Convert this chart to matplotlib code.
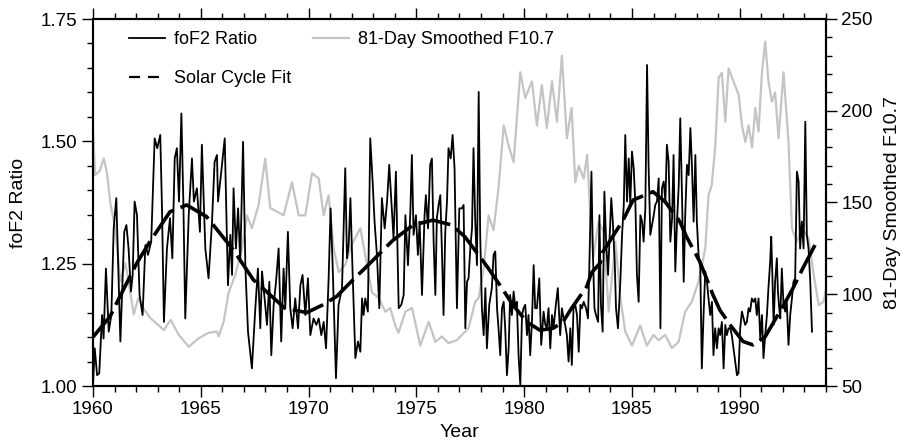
import numpy as np
import matplotlib
matplotlib.use("Agg")
import matplotlib.pyplot as plt
from matplotlib.lines import Line2D
from matplotlib.ticker import MultipleLocator, FormatStrFormatter

plt.rcParams["font.family"] = ["Liberation Sans", "DejaVu Sans"]
plt.rcParams["font.size"] = 13

# monthly-ish foF2 ratio, years counted from 1960
ratio_years = [
    0.0, 0.08, 0.19, 0.29, 0.42, 0.49, 0.60, 0.73, 0.85, 0.96, 1.08, 1.27, 1.45, 1.55, 1.65, 1.76, 1.84, 1.93,
    2.04, 2.16, 2.30, 2.43, 2.55, 2.70, 2.86, 2.98, 3.12, 3.20, 3.29, 3.43, 3.57, 3.68, 3.79, 3.89, 3.99,
    4.10, 4.19, 4.28, 4.44, 4.59, 4.68, 4.82, 4.96, 5.05, 5.21, 5.36, 5.52, 5.64, 5.75,
    5.80, 5.95, 6.11, 6.26, 6.37, 6.45, 6.52, 6.63, 6.73, 6.83, 6.96, 7.07, 7.19, 7.37, 7.53, 7.65, 7.76,
    7.84, 7.96, 8.07, 8.18, 8.27, 8.38, 8.49, 8.61, 8.73, 8.84, 8.92, 9.04, 9.15, 9.26, 9.38, 9.51, 9.62,
    9.72, 9.85, 9.97, 10.08, 10.23, 10.36, 10.47, 10.59, 10.70, 10.81, 10.93, 11.02, 11.11, 11.21, 11.27,
    11.39, 11.55, 11.70, 11.78, 11.86, 11.94, 12.04, 12.17, 12.29, 12.40, 12.48, 12.55, 12.63, 12.75, 12.86,
    12.97, 13.06, 13.17, 13.28, 13.40, 13.53, 13.64, 13.74, 13.84, 13.94, 14.05, 14.18, 14.30, 14.41, 14.49,
    14.61, 14.72, 14.79, 14.87, 14.98, 15.07, 15.15, 15.26, 15.38, 15.44, 15.54, 15.64, 15.72, 15.80, 15.88,
    15.95, 16.03, 16.11, 16.19, 16.26, 16.34, 16.42, 16.49, 16.59, 16.68, 16.77,
    16.88, 16.99, 17.11, 17.19, 17.27, 17.35, 17.42, 17.50, 17.58, 17.65, 17.73, 17.81, 17.89, 17.96, 18.04,
    18.12, 18.20, 18.27, 18.38, 18.50, 18.58, 18.66, 18.74, 18.81, 18.89, 18.97, 19.05, 19.12, 19.20, 19.28,
    19.35, 19.43, 19.51, 19.59, 19.66, 19.74, 19.82, 19.90, 19.97, 20.05, 20.13, 20.20, 20.28, 20.36, 20.44,
    20.51, 20.59, 20.70, 20.79, 20.90, 20.98, 21.05, 21.13, 21.21, 21.29, 21.36, 21.47, 21.56, 21.67, 21.75,
    21.83, 21.90, 21.98, 22.06, 22.14, 22.21, 22.29, 22.37,
    22.45, 22.53, 22.61, 22.68, 22.76, 22.87, 22.96, 23.02, 23.12, 23.18, 23.26, 23.33, 23.43, 23.49, 23.56,
    23.64, 23.72, 23.80, 23.89, 23.95, 24.04, 24.11, 24.20, 24.26, 24.35, 24.46, 24.54, 24.62, 24.69, 24.77,
    24.85, 24.92, 25.00, 25.08, 25.16, 25.23, 25.31, 25.39, 25.47, 25.54, 25.62, 25.70, 25.77, 25.85, 25.93,
    26.01, 26.08, 26.16, 26.24, 26.32, 26.39, 26.47, 26.55, 26.62, 26.70, 26.78, 26.86, 26.93, 27.01, 27.09,
    27.17, 27.24, 27.32, 27.40, 27.47, 27.55, 27.63, 27.71, 27.78, 27.86, 27.94, 28.01,
    28.09, 28.17, 28.24, 28.32, 28.40, 28.48, 28.55, 28.63, 28.71, 28.78, 28.86, 28.94, 29.02, 29.09, 29.17,
    29.25, 29.33, 29.40, 29.48, 29.56, 29.63, 29.71, 29.79, 29.87, 29.94, 30.02, 30.10, 30.18, 30.25, 30.33,
    30.41, 30.48, 30.56, 30.64, 30.72, 30.79, 30.87, 30.95, 31.03, 31.10, 31.18, 31.26, 31.33, 31.41, 31.46,
    31.52, 31.57, 31.64, 31.72, 31.77, 31.83, 31.88, 31.95, 32.03, 32.11, 32.18, 32.26, 32.34, 32.42, 32.49,
    32.57, 32.65, 32.73, 32.80, 32.88, 32.96, 33.04, 33.11, 33.19, 33.27, 33.35,
]
ratio_vals = [
    1.002, 1.077, 1.022, 1.026, 1.145, 1.097, 1.240, 1.111, 1.145, 1.322, 1.384, 1.091, 1.315, 1.329, 1.281, 1.193, 1.227, 1.377,
    1.349, 1.186, 1.145, 1.288, 1.268, 1.295, 1.506, 1.486, 1.513, 1.363, 1.131, 1.281, 1.343, 1.261, 1.465, 1.486, 1.377,
    1.557, 1.377, 1.138, 1.349, 1.465, 1.377, 1.404, 1.315, 1.493, 1.281, 1.220, 1.336, 1.458, 1.472,
    1.377, 1.438, 1.506, 1.206, 1.309, 1.227, 1.404, 1.281, 1.363, 1.254, 1.499, 1.240, 1.111, 1.036, 1.159, 1.240, 1.118,
    1.234, 1.179, 1.125, 1.213, 1.063, 1.166, 1.213, 1.281, 1.091, 1.240, 1.159, 1.315, 1.159, 1.118, 1.179, 1.118, 1.206,
    1.227, 1.145, 1.220, 1.104, 1.138, 1.125, 1.138, 1.104, 1.131, 1.077, 1.220, 1.363, 1.254, 1.104, 1.016,
    1.166, 1.200, 1.445, 1.261, 1.288, 1.384, 1.234, 1.057, 1.091, 1.070, 1.179, 1.145, 1.179, 1.152, 1.506,
    1.418, 1.336, 1.268, 1.159, 1.384, 1.322, 1.377, 1.452, 1.377, 1.302, 1.438, 1.159, 1.166, 1.186, 1.349,
    1.247, 1.356, 1.472, 1.309, 1.349, 1.268, 1.336, 1.186, 1.349, 1.390, 1.322, 1.452, 1.465, 1.295, 1.186,
    1.343, 1.370, 1.390, 1.268, 1.145, 1.315, 1.377, 1.486, 1.465, 1.513, 1.445,
    1.159, 1.363, 1.363, 1.370, 1.118, 1.213, 1.220, 1.281, 1.322, 1.486, 1.336, 1.247, 1.601, 1.309, 1.159,
    1.104, 1.200, 1.077, 1.166, 1.200, 1.268, 1.275, 1.159, 1.118, 1.063, 1.159, 1.172, 1.118, 1.022, 1.077,
    1.186, 1.145, 1.193, 1.159, 1.172, 1.063, 1.002, 1.145, 1.159, 1.166, 1.104, 1.145, 1.063, 1.131, 1.247,
    1.159, 1.159, 1.220, 1.084, 1.152, 1.125, 1.118, 1.159, 1.077, 1.145, 1.118, 1.166, 1.200, 1.104, 1.159,
    1.138, 1.125, 1.104, 1.050, 1.118, 1.043, 1.159, 1.166,
    1.145, 1.070, 1.166, 1.159, 1.172, 1.159, 1.138, 1.240, 1.438, 1.281, 1.159, 1.145, 1.131, 1.349, 1.166,
    1.111, 1.397, 1.295, 1.227, 1.288, 1.384, 1.336, 1.254, 1.159, 1.118, 1.213, 1.309, 1.370, 1.513, 1.377,
    1.465, 1.370, 1.479, 1.445, 1.370, 1.227, 1.172, 1.349, 1.336, 1.295, 1.363, 1.656, 1.452, 1.309, 1.329,
    1.349, 1.370, 1.377, 1.424, 1.118, 1.404, 1.418, 1.377, 1.493, 1.458, 1.295, 1.343, 1.472, 1.234, 1.336,
    1.411, 1.547, 1.390, 1.213, 1.349, 1.452, 1.431, 1.527, 1.452, 1.336, 1.472, 1.336,
    1.268, 1.240, 1.036, 1.145, 1.234, 1.213, 1.179, 1.145, 1.172, 1.063, 1.118, 1.077, 1.118, 1.104, 1.131,
    1.036, 1.125, 1.104, 1.118, 1.118, 1.104, 1.077, 1.050, 1.022, 1.026, 1.118, 1.152, 1.138, 1.125, 1.131,
    1.159, 1.152, 1.179, 1.172, 1.179, 1.145, 1.179, 1.097, 1.145, 1.057, 1.104, 1.145, 1.200, 1.254, 1.305,
    1.213, 1.125, 1.213, 1.261, 1.193, 1.159, 1.138, 1.240, 1.166, 1.152, 1.172, 1.084, 1.145, 1.179, 1.213,
    1.220, 1.438, 1.418, 1.281, 1.336, 1.281, 1.540, 1.309, 1.281, 1.213, 1.111,
]

# 81-day smoothed F10.7 (right axis)
f107_years = [
    0.0, 0.1, 0.3, 0.5, 0.65, 0.8, 1.03, 1.27, 1.5, 1.65, 1.89, 2.1, 2.33, 2.66, 3.05, 3.29, 3.6, 3.97,
    4.44, 4.9, 5.36, 5.75, 5.83, 6.06, 6.29, 6.6, 6.91, 7.14, 7.37, 7.68, 7.99, 8.22, 8.53, 8.84, 9.23,
    9.54, 9.85, 10.16, 10.47, 10.7, 10.93, 11.16, 11.4, 11.7, 12.0, 12.4, 12.63, 12.94, 13.25, 13.56,
    13.79, 14.02, 14.17, 14.49, 14.8, 15.18, 15.57, 15.88, 16.18, 16.49, 16.88, 17.11, 17.42, 17.73,
    17.89, 18.12, 18.35, 18.58, 18.81, 19.05, 19.28, 19.51, 19.82, 20.05, 20.36, 20.59, 20.82, 21.05,
    21.29, 21.52, 21.75, 21.98, 22.2, 22.37, 22.53, 22.76, 22.92, 23.07, 23.22, 23.45, 23.68, 23.92,
    24.23, 24.46, 24.69, 25.0, 25.38, 25.69, 26.0, 26.23, 26.54, 26.85, 27.16, 27.47, 27.78, 28.09,
    28.4, 28.55, 28.7, 28.86, 29.02, 29.17, 29.33, 29.48, 29.71, 29.95, 30.1, 30.26, 30.41, 30.57,
    30.72, 30.87, 31.03, 31.18, 31.33, 31.49, 31.64, 31.8, 32.03, 32.26, 32.42, 32.65, 32.88, 33.19,
    33.43, 33.66, 33.89, 34.0,
]
f107_vals = [
    189, 165, 167, 174, 166, 150, 136, 107, 117, 107, 89, 98, 92.5, 87, 83, 80.5, 86, 78,
    71.4, 76, 79, 79.6, 77, 85, 101, 110.5, 125, 143, 136, 148.6, 174, 147, 145, 143, 161,
    143, 143, 166, 163, 143, 154, 125, 112, 116, 127, 136, 121, 101, 98, 90.5,
    92.5, 83, 79, 90.5, 92.5, 72, 85, 74, 77, 73.4, 75, 77.8, 81.6, 96,
    98, 114, 143, 135, 158, 192, 181, 172, 221, 207, 216, 192, 214, 190.6,
    216, 194, 230, 185, 201.5, 161, 170, 163, 176, 143, 121, 139.5, 134, 90.5,
    128.6, 98, 79.6, 72, 83, 72, 77.8, 75, 77.8, 70.7, 74, 90.5, 96, 107,
    125, 154, 159.5, 180, 218, 220.6, 194, 223, 216, 208.6, 192, 183, 192, 180,
    201.5, 188.6, 221, 237.7, 216, 205, 210, 185, 221, 183, 136, 128.6, 136, 130.7,
    110.5, 94, 96, 103,
]

# solar cycle fit
fit_years = [
    0.0, 0.79, 1.17, 2.03, 2.64, 3.57, 4.34, 5.27, 6.51, 7.44, 8.9, 9.91, 10.67, 11.3, 12.06, 12.69,
    13.46, 13.92, 14.85, 15.77, 16.64, 17.25, 17.95, 18.33, 19.03, 19.42, 20.12, 20.73, 21.34, 21.8,
    22.2, 22.9, 23.13, 23.52, 23.65, 24.59, 25.05, 25.97, 26.53, 27.22, 27.53, 28.15, 28.76, 29.08,
    29.62, 30.15, 30.61, 31.17, 31.63, 32.17, 32.47, 32.93, 33.49,
]
fit_vals = [
    1.10, 1.142, 1.176, 1.251, 1.295, 1.356, 1.37, 1.346, 1.278, 1.217, 1.159, 1.150, 1.166, 1.183, 1.217, 1.244,
    1.278, 1.298, 1.329, 1.339, 1.329, 1.305, 1.264, 1.241, 1.196, 1.169, 1.131, 1.114, 1.118, 1.131,
    1.159, 1.203, 1.232, 1.251, 1.274, 1.339, 1.38, 1.397, 1.377, 1.336, 1.305, 1.254, 1.186, 1.155,
    1.121, 1.091, 1.084, 1.10, 1.135, 1.176, 1.20, 1.241, 1.288,
]

fig = plt.figure(figsize=(9.04, 4.44), dpi=100)
ax = fig.add_axes([93 / 904, 58 / 444, 733 / 904, 367 / 444])
ax2 = ax.twinx()

g, = ax2.plot(1960 + np.array(f107_years), f107_vals, color="#c4c4c4", lw=1.6)
b, = ax.plot(1960 + np.array(ratio_years), ratio_vals, color="black", lw=1.3)
ax.plot(1960 + np.array(fit_years), fit_vals, color="black", lw=2.6, ls=(0, (9, 2)))

ax.set_zorder(ax2.get_zorder() + 1)
ax.patch.set_visible(False)

ax.set_xlim(1960, 1994)
ax.set_ylim(1.0, 1.75)
ax2.set_ylim(50, 250)
ax.xaxis.set_major_locator(MultipleLocator(5))
ax.xaxis.set_minor_locator(MultipleLocator(1))
ax.yaxis.set_major_locator(MultipleLocator(0.25))
ax.yaxis.set_minor_locator(MultipleLocator(0.05))
ax.yaxis.set_major_formatter(FormatStrFormatter("%.2f"))
ax2.yaxis.set_major_locator(MultipleLocator(50))
ax2.yaxis.set_minor_locator(MultipleLocator(10))

for a in (ax, ax2):
    for s in a.spines.values():
        s.set_linewidth(1.5)
    a.tick_params(which="major", length=8, width=1.0, labelsize=13.5, pad=3)
    a.tick_params(which="minor", length=4, width=1.0)
ax.tick_params(which="both", top=True, direction="out")

ax.set_xlabel("Year", fontsize=14, labelpad=4)
ax.set_ylabel("foF2 Ratio", fontsize=14, labelpad=10)
ax2.set_ylabel("81-Day Smoothed F10.7", fontsize=14, labelpad=8)

# legend-only handle so the dashes show as "— —"
fit_handle = Line2D([], [], color="black", lw=1.6, ls=(0, (5, 3.5)))
ax.legend([b, fit_handle, g], ["foF2 Ratio", "Solar Cycle Fit", "81-Day Smoothed F10.7"],
          ncol=2, frameon=False, loc="upper left", bbox_to_anchor=(36 / 733, 0.966),
          borderaxespad=0, borderpad=0, handlelength=2.0, handletextpad=0.5,
          columnspacing=1.2, labelspacing=1.2, fontsize=13)

fig.savefig("out.png", dpi=100)
